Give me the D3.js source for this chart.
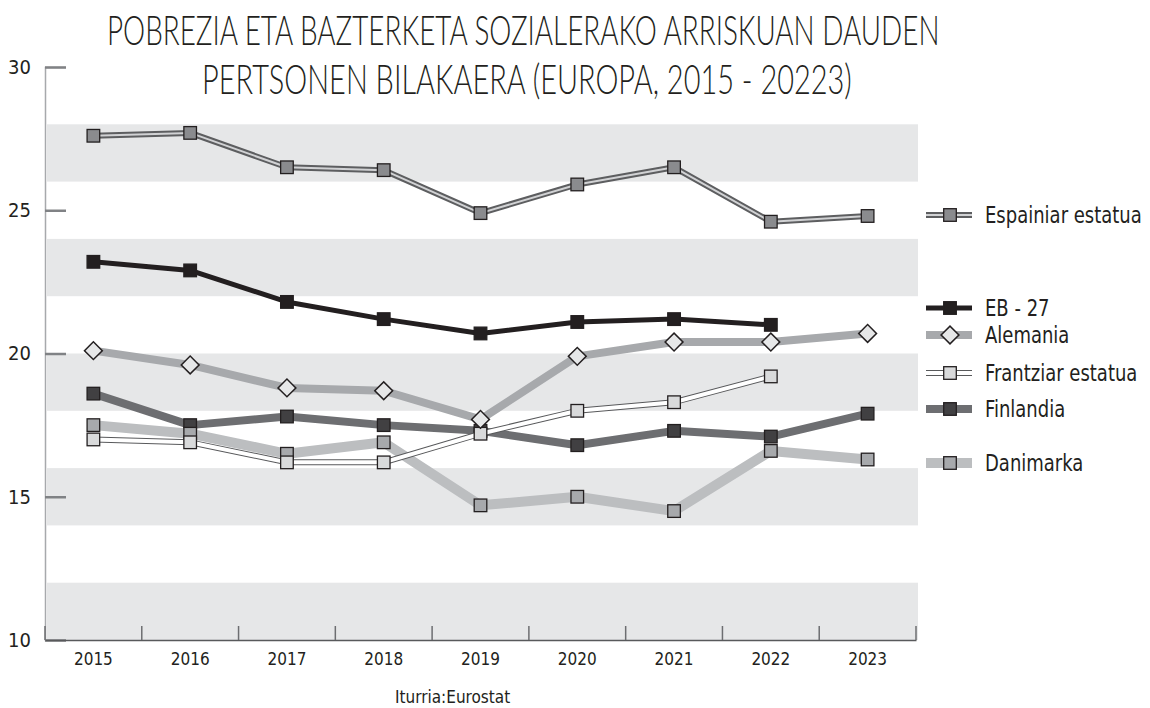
<!DOCTYPE html>
<html>
<head>
<meta charset="utf-8">
<script src="https://cdn.jsdelivr.net/npm/d3@7"></script>
<style>
    body { margin: 0; background: #fff; }
    svg text { font-family: "DejaVu Sans Condensed", "Liberation Sans Narrow", sans-serif; fill: #231f20; }
    svg .title text { font-family: "Lato", "Open Sans", sans-serif; font-weight: 300; }
</style>
</head>
<body>
<div id="chart"></div>
<script>

// data (Eurostat, % pobrezia/bazterketa arriskuan)
const years = ["2015", "2016", "2017", "2018", "2019", "2020", "2021", "2022", "2023"];
const espainia  = [27.6, 27.7, 26.5, 26.4, 24.9, 25.9, 26.5, 24.6, 24.8];
const eb27      = [23.2, 22.9, 21.8, 21.2, 20.7, 21.1, 21.2, 21.0, null];
const alemania  = [20.1, 19.6, 18.8, 18.7, 17.7, 19.9, 20.4, 20.4, 20.7];
const frantzia  = [17.0, 16.9, 16.2, 16.2, 17.2, 18.0, 18.3, 19.2, null];
const finlandia = [18.6, 17.5, 17.8, 17.5, 17.3, 16.8, 17.3, 17.1, 17.9];
const danimarka = [17.5, 17.2, 16.5, 16.9, 14.7, 15.0, 14.5, 16.6, 16.3];

const yTicks = [10, 15, 20, 25, 30];
const bands = [[10, 12], [14, 16], [18, 20], [22, 24], [26, 28]];

const titleLines = ["POBREZIA ETA BAZTERKETA SOZIALERAKO ARRISKUAN DAUDEN",
                    "PERTSONEN BILAKAERA (EUROPA, 2015 - 20223)"];
const source = "Iturria:Eurostat";

// series, in drawing order (bottom first)
let series = [
    {name: "Finlandia", values: finlandia, outer: "#6d6e71", outerW: 8, inner: null, shape: "square", fill: "#414042", legendY: 409},
    {name: "Danimarka", values: danimarka, outer: "#bcbec0", outerW: 10, inner: null, shape: "square", fill: "#a7a9ac", legendY: 463},
    {name: "Frantziar estatua", values: frantzia, outer: "#58595b", outerW: 6, inner: "#ffffff", innerW: 4, shape: "square", fill: "#d9dadb", legendY: 373},
    {name: "Alemania", values: alemania, outer: "#a7a9ac", outerW: 8, inner: null, shape: "diamond", fill: "#e6e7e8", legendY: 335},
    {name: "EB - 27", values: eb27, outer: "#231f20", outerW: 5, inner: null, shape: "square", fill: "#231f20", legendY: 308},
    {name: "Espainiar estatua", values: espainia, outer: "#5d5e60", outerW: 6, inner: "#d1d2d4", innerW: 2, shape: "square", fill: "#8a8b8e", legendY: 215}
];

let width = 1150, height = 708;

let svg = d3.select("#chart").append("svg")
    .attr("width", width)
    .attr("height", height);

// scales
let x = d3.scaleBand().domain(years).range([45, 916]);
let y = d3.scaleLinear().domain([10, 30]).range([640, 67]);

// gray bands
svg.append("g").attr("class", "bands")
    .selectAll("rect")
    .data(bands)
    .enter().append("rect")
    .attr("x", 47)
    .attr("width", 918 - 47)
    .attr("y", d => y(d[1]))
    .attr("height", d => y(d[0]) - y(d[1]))
    .attr("fill", "#e6e7e8");

// title: squeeze each line to the condensed width of the original
let titleFit = [{x: 107, y: 45, w: 833}, {x: 202, y: 94, w: 650}];
svg.append("g").attr("class", "title")
    .selectAll("text")
    .data(titleLines)
    .enter().append("text")
    .style("font-size", "42px")
    .text(d => d)
    .attr("transform", function(d, i) {
        let k = titleFit[i].w / this.getComputedTextLength();
        return `translate(${titleFit[i].x},${titleFit[i].y}) scale(${k},1)`;
    });

// y axis
let yAxis = svg.append("g")
    .attr("class", "axis axis--y")
    .attr("transform", "translate(45,0)")
    .call(d3.axisLeft(y).tickValues(yTicks).tickSize(-21).tickPadding(14));

yAxis.select(".domain").attr("stroke", "#a7a9ac").attr("stroke-width", 1.5);
yAxis.selectAll(".tick line").attr("stroke", "#808285").attr("stroke-width", 2.5);
yAxis.selectAll(".tick text").style("font-size", "20px").attr("fill", "#231f20");

// x axis
let xAxis = svg.append("g")
    .attr("class", "axis axis--x")
    .attr("transform", "translate(0,640)")
    .call(d3.axisBottom(x).tickSize(0).tickPadding(13));

xAxis.select(".domain").attr("stroke", "#58595b").attr("stroke-width", 1.5);
xAxis.selectAll(".tick text").style("font-size", "17px").attr("fill", "#231f20");

// x boundary ticks
let bounds = years.map(d => x(d)).concat([x.range()[1]]);
xAxis.selectAll(".bound")
    .data(bounds)
    .enter().append("line")
    .attr("class", "bound")
    .attr("x1", d => d).attr("x2", d => d)
    .attr("y1", -14).attr("y2", 0)
    .attr("stroke", "#6d6e71")
    .attr("stroke-width", 1.5);

// lines
let line = d3.line()
    .defined(d => d != null)
    .x((d, i) => x(years[i]) + x.bandwidth() / 2)
    .y(d => y(d));

function drawMarker(g, shape, fill, cx, cy) {
    if (shape === "diamond") {
        g.append("rect")
            .attr("x", -6.3).attr("y", -6.3)
            .attr("width", 12.6).attr("height", 12.6)
            .attr("transform", `translate(${cx},${cy}) rotate(45)`)
            .attr("fill", fill)
            .attr("stroke", "#231f20")
            .attr("stroke-width", 1.5);
    } else {
        g.append("rect")
            .attr("x", cx - 6.3).attr("y", cy - 6.3)
            .attr("width", 12.6).attr("height", 12.6)
            .attr("fill", fill)
            .attr("stroke", "#231f20")
            .attr("stroke-width", 1.3);
    }
}

series.forEach(function(s) {
    let g = svg.append("g").attr("class", "series");

    g.append("path")
        .datum(s.values)
        .attr("d", line)
        .attr("fill", "none")
        .attr("stroke", s.outer)
        .attr("stroke-width", s.outerW)
        .attr("stroke-linejoin", "round");

    if (s.inner) {
        g.append("path")
            .datum(s.values)
            .attr("d", line)
            .attr("fill", "none")
            .attr("stroke", s.inner)
            .attr("stroke-width", s.innerW)
            .attr("stroke-linejoin", "round");
    }

    s.values.forEach(function(v, i) {
        if (v == null) return;
        drawMarker(g, s.shape, s.fill, x(years[i]) + x.bandwidth() / 2, y(v));
    });

    // legend entry
    let lg = svg.append("g").attr("class", "legend");
    lg.append("line")
        .attr("x1", 926).attr("x2", 972)
        .attr("y1", s.legendY).attr("y2", s.legendY)
        .attr("stroke", s.outer)
        .attr("stroke-width", s.outerW);
    if (s.inner) {
        lg.append("line")
            .attr("x1", 926).attr("x2", 972)
            .attr("y1", s.legendY).attr("y2", s.legendY)
            .attr("stroke", s.inner)
            .attr("stroke-width", s.innerW);
    }
    drawMarker(lg, s.shape, s.fill, 950, s.legendY);
    // condensed look: squeeze the label horizontally
    lg.append("text")
        .attr("transform", `translate(985,${s.legendY}) scale(0.87,1)`)
        .attr("dy", "0.35em")
        .style("font-size", "23px")
        .text(s.name);
});

// source
svg.append("text")
    .attr("x", 395)
    .attr("y", 703)
    .style("font-size", "17px")
    .text(source);

</script>
</body>
</html>
